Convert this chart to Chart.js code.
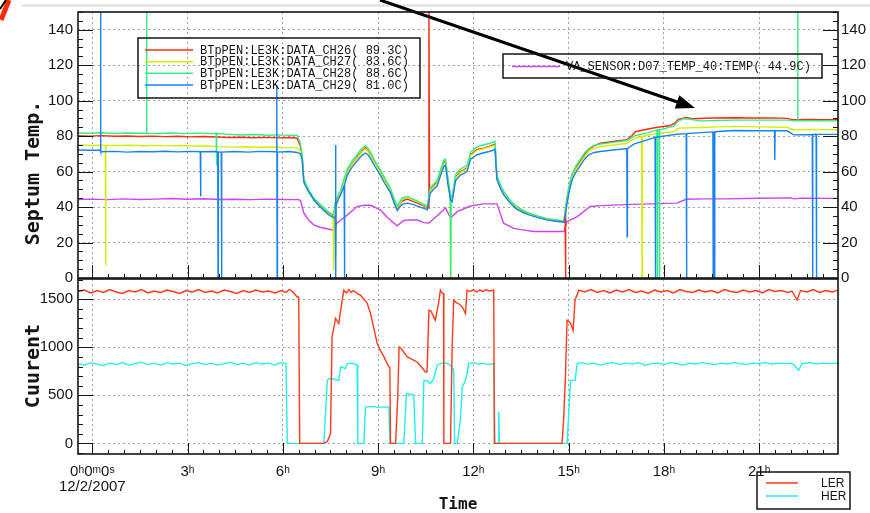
<!DOCTYPE html>
<html>
<head>
<meta charset="utf-8">
<script src="https://cdn.jsdelivr.net/npm/chart.js@4.4.1/dist/chart.umd.min.js"></script>
<style>
  html, body { margin: 0; padding: 0; background: #fff; }
  #wrap { position: relative; width: 870px; height: 513px; overflow: hidden; }
  canvas { position: absolute; left: 0; }
  #temp { top: 0; }
  #cur { top: 278px; }
</style>
</head>
<body>
<div id="wrap">
  <canvas id="temp" width="870" height="292"></canvas>
  <canvas id="cur" width="870" height="235"></canvas>
</div>
<script>
// hours since 0h 12/2/2007
const timeTicks = [0, 3, 6, 9, 12, 15, 18, 21];
const timeLabels = [["0ʰ0ᵐ0ˢ", "12/2/2007"], "3ʰ", "6ʰ", "9ʰ", "12ʰ", "15ʰ", "18ʰ", "21ʰ"];
const tempTicks = [0, 20, 40, 60, 80, 100, 120, 140];
const currentTicks = [0, 500, 1000, 1500];

const tempLabels = [
  "BTpPEN:LE3K:DATA_CH26( 89.3C)",
  "BTpPEN:LE3K:DATA_CH27( 83.6C)",
  "BTpPEN:LE3K:DATA_CH28( 88.6C)",
  "BTpPEN:LE3K:DATA_CH29( 81.0C)",
  "VA_SENSOR:D07_TEMP_40:TEMP( 44.9C)",
];
const beamLabels = ["LER", "HER"];

// septum temperatures [hour, degC]
const ch26 = [[-0.45,80.2],[-0.1,80.0],[0.3,80.3],[0.7,79.9],[1.1,80.1],[1.5,79.8],[1.9,80.0],[2.3,79.7],[2.7,79.9],[3.1,79.6],[3.5,79.8],[3.9,79.5],[4.3,79.2],[4.7,79.4],[5.1,79.1],[5.5,79.3],[5.9,79.0],[6.2,79.2],[6.45,78.8],[6.55,74.5],[6.61,68],[6.66,55],[6.8,49.5],[6.98,44.5],[7.15,41.5],[7.3,39],[7.45,36.5],[7.6,35],[7.66,42.5],[7.75,46],[7.82,48.5],[7.92,54],[8.03,60],[8.18,64.5],[8.34,68],[8.48,71.5],[8.6,73.5],[8.68,72],[8.76,69.5],[8.9,65],[9.07,60],[9.22,55],[9.39,49.5],[9.5,44],[9.6,39.5],[9.68,41.5],[9.76,43.5],[9.92,44.5],[10.1,43.2],[10.23,42.3],[10.4,41],[10.58,39.5],[10.6,150],[10.62,48],[10.65,49.8],[10.75,52],[10.86,54],[10.97,60],[11.07,65.5],[11.12,66],[11.2,55],[11.28,46],[11.33,45],[11.38,50],[11.44,57],[11.59,60],[11.7,61],[11.8,62],[11.91,69.5],[12.12,72.5],[12.3,73],[12.53,74.5],[12.68,75.5],[12.74,57],[12.85,52],[12.95,48.5],[13.17,43],[13.35,40],[13.58,37.5],[13.8,36],[14.01,34.8],[14.3,33.3],[14.6,32.5],[14.85,31.8],[14.89,31.8],[14.9,0],[14.91,40],[15.0,50],[15.1,57.5],[15.22,62],[15.37,66],[15.5,69.5],[15.63,72.5],[15.8,74.5],[16.0,76],[16.4,77],[16.84,78],[17.0,80.5],[17.1,82.5],[17.5,84],[17.8,85],[18.2,86],[18.35,87.5],[18.45,89.5],[18.7,90.5],[18.9,89.8],[19.5,90.2],[20.2,90.4],[20.8,90.2],[21.4,90.3],[21.88,90],[22.08,89.2],[22.6,89.4],[23.0,89.2],[23.48,89.3]];
const ch27 = [[-0.45,75],[-0.1,74.8],[0.3,74.9],[0.41,74.8],[0.42,7],[0.43,74.8],[0.8,74.7],[1.2,74.9],[1.6,74.6],[2.0,74.8],[2.4,74.5],[2.8,74.7],[3.2,74.4],[3.6,74.6],[4.0,74.1],[4.4,73.8],[4.8,74.0],[5.2,73.7],[5.6,73.9],[6.0,73.6],[6.45,73.5],[6.55,71.5],[6.61,66.5],[6.66,54.5],[6.8,49],[6.98,44],[7.15,41],[7.3,38.5],[7.45,36],[7.58,34.5],[7.6,4.3],[7.62,35],[7.66,42],[7.75,45.5],[7.82,48],[7.92,53.5],[8.03,59.5],[8.18,64],[8.34,67.5],[8.48,71],[8.6,72.8],[8.68,71.5],[8.76,69],[8.9,64.5],[9.07,59.5],[9.22,54.5],[9.39,49],[9.5,43.5],[9.6,39.8],[9.68,42],[9.76,44.5],[9.92,45.3],[10.1,44],[10.23,43],[10.4,41.5],[10.55,40],[10.62,47.5],[10.65,49.5],[10.75,51.5],[10.86,53.5],[10.97,59.5],[11.07,64.5],[11.12,65],[11.2,54.5],[11.27,45.5],[11.28,0],[11.29,45],[11.33,44.8],[11.38,50],[11.44,56.5],[11.59,59.5],[11.7,60.5],[11.8,61.5],[11.91,69],[12.12,72],[12.3,72.8],[12.53,74],[12.68,74.8],[12.74,56.5],[12.85,51.5],[12.95,48],[13.17,42.8],[13.35,39.8],[13.58,37.3],[13.8,35.8],[14.01,34.6],[14.3,33.2],[14.6,32.4],[14.85,31.8],[14.91,39],[15.0,49],[15.1,56.5],[15.22,61],[15.37,65],[15.5,68.5],[15.63,71.5],[15.8,73],[16.0,74],[16.4,75],[16.84,76],[17.05,78.5],[17.3,79.8],[17.31,0],[17.32,79.8],[17.5,80.5],[17.78,81.5],[18.3,82.5],[18.45,84.5],[19.15,84.9],[19.7,85.2],[20.2,85.5],[21.0,85.2],[21.88,85],[22.08,83.6],[22.8,83.7],[23.48,83.6]];
const ch28 = [[-0.45,81.8],[-0.1,81.6],[0.3,81.9],[0.7,81.5],[1.1,81.8],[1.5,81.6],[1.7,81.7],[1.71,150],[1.72,81.7],[2.1,81.5],[2.5,81.8],[2.9,81.4],[3.3,81.7],[3.7,81.5],[3.9,81.5],[3.91,63.5],[3.92,81.5],[4.3,81],[4.7,80.6],[5.1,80.9],[5.5,80.5],[5.9,80.7],[6.2,80.4],[6.45,80.5],[6.55,76],[6.61,69],[6.66,56],[6.8,50],[6.98,45],[7.15,42],[7.3,39.5],[7.45,37],[7.6,35.5],[7.66,43.5],[7.75,47],[7.82,49.5],[7.92,55.5],[8.03,61.5],[8.18,66],[8.34,69.5],[8.48,73],[8.6,74.5],[8.68,73.2],[8.76,71],[8.9,66],[9.07,61],[9.22,56],[9.39,50.5],[9.5,45],[9.6,40.5],[9.68,43],[9.76,45],[9.92,46],[10.1,44.5],[10.23,43.5],[10.4,42],[10.55,40.5],[10.62,49],[10.65,51],[10.75,53],[10.86,55],[10.97,61.5],[11.07,66.5],[11.12,67],[11.2,56],[11.27,47],[11.285,0],[11.3,46.5],[11.33,46],[11.38,51.5],[11.44,58.5],[11.59,61.5],[11.7,62.5],[11.8,63.5],[11.91,71],[12.12,74],[12.3,75],[12.53,76],[12.68,77],[12.74,58],[12.85,52.5],[12.95,49],[13.17,43.5],[13.35,40.5],[13.58,38],[13.8,36.3],[14.01,35],[14.3,33.6],[14.6,32.8],[14.85,32.2],[14.91,41],[15.0,51],[15.1,58.5],[15.22,63],[15.37,67],[15.5,70.5],[15.63,73],[15.8,74.8],[16.0,75.5],[16.4,76.5],[16.84,77.5],[17.05,80],[17.5,82],[17.78,83.5],[17.79,0],[17.8,83.5],[17.85,83.6],[17.86,0],[17.87,83.6],[18.3,85.5],[18.41,88],[18.6,89.8],[18.83,89.5],[19.15,88.6],[19.7,88.8],[20.2,89],[21.0,89],[21.88,89],[22.08,88.6],[22.2,88.6],[22.21,150],[22.22,88.6],[22.7,88.7],[23.48,88.6]];
const ch29 = [[-0.45,72.2],[-0.1,72],[0.25,72.2],[0.26,150],[0.27,71.2],[0.7,71.4],[1.1,71],[1.5,71.3],[1.9,71.2],[2.3,71.5],[2.7,71.1],[3.1,71.4],[3.4,71.2],[3.41,46],[3.42,71.2],[3.8,71.3],[3.95,71.2],[3.96,0],[3.97,71],[4.06,71],[4.07,0],[4.08,71],[4.5,71.3],[4.9,71],[5.3,71.4],[5.8,71.2],[5.81,108.5],[5.82,0],[5.83,71],[6.2,71.3],[6.45,70.8],[6.55,70],[6.61,66.5],[6.66,54],[6.8,49],[6.98,44],[7.15,40.5],[7.3,38],[7.45,35.5],[7.6,34],[7.65,34.5],[7.66,75],[7.67,0],[7.68,41],[7.75,44.5],[7.82,47],[7.93,52],[7.94,0],[7.95,52.5],[8.03,58],[8.18,62.5],[8.34,66],[8.48,69],[8.6,70.5],[8.68,69.5],[8.76,67.5],[8.9,63],[9.07,58],[9.22,53],[9.39,48],[9.5,42.5],[9.6,38],[9.68,40],[9.76,41.5],[9.92,42.2],[10.1,41.5],[10.23,40.5],[10.4,39.5],[10.55,38.5],[10.62,46],[10.65,48],[10.75,50],[10.86,52],[10.97,58],[11.07,63],[11.12,63.5],[11.2,52.5],[11.28,44],[11.33,43],[11.38,48.5],[11.44,55],[11.59,58],[11.7,59],[11.8,60],[11.91,67],[12.12,69.5],[12.3,70.5],[12.53,71.5],[12.68,72.5],[12.74,55.5],[12.85,50.5],[12.95,47],[13.17,42],[13.35,39],[13.58,36.8],[13.8,35.3],[14.01,34.2],[14.3,32.8],[14.6,32],[14.85,31.5],[14.91,37.5],[15.0,47.5],[15.1,55],[15.22,59.5],[15.37,63.5],[15.5,67],[15.63,69.5],[15.8,70.8],[16.0,71.3],[16.4,72.2],[16.83,73],[16.84,23.3],[16.85,73],[17.05,75.5],[17.5,78],[17.72,79.3],[17.73,0],[17.74,79.4],[18.1,80.3],[18.41,81.1],[18.7,81.4],[18.71,0],[18.72,81.4],[19.15,82],[19.54,82.4],[19.55,0],[19.565,82.4],[19.58,0],[19.6,82.5],[20.2,83.2],[20.8,83],[21.48,83.1],[21.49,66.6],[21.5,83.1],[21.88,83],[22.08,80.7],[22.67,80.9],[22.68,0],[22.69,80.9],[22.79,81],[22.8,0],[22.81,81],[23.48,81]];
const vaSensor = [[-0.45,44.3],[0,44.5],[0.5,44.2],[1.0,44.6],[1.5,44.3],[2.0,44.5],[2.5,44.8],[3.0,44.4],[3.5,44.7],[4.0,44.3],[4.5,44.4],[5.0,44.2],[5.5,44.5],[6.0,44.3],[6.5,44.2],[6.56,43.5],[6.66,36.7],[6.8,33],[6.97,30],[7.2,28.5],[7.6,27],[7.71,31],[7.85,33],[8.03,35.6],[8.34,40.3],[8.55,41],[8.76,41],[9.07,38.4],[9.3,34],[9.6,29.4],[9.81,32.4],[10.0,32.8],[10.23,32.7],[10.44,31.2],[10.6,31],[10.85,35],[11.12,39.5],[11.28,33.8],[11.49,37.4],[11.91,40.6],[12.32,41.8],[12.74,41.8],[12.95,30.9],[13.27,28],[13.6,27],[13.9,26.2],[14.4,26.2],[14.85,26.2],[14.95,31.8],[15.27,34.6],[15.68,40.3],[16.0,40.8],[17.0,41.5],[18.41,42.2],[18.7,44.4],[19.3,44.6],[20.0,44.6],[21.0,45],[22.0,45.2],[22.1,44.6],[22.3,45],[23.48,44.9]];

// beam currents [hour, mA]
const ler = [[-0.45,1580],[-0.25,1595],[-0.05,1565],[0.15,1590],[0.35,1570],[0.55,1600],[0.75,1575],[0.95,1560],[1.15,1590],[1.35,1575],[1.55,1600],[1.75,1565],[1.95,1585],[2.15,1570],[2.35,1595],[2.55,1580],[2.75,1560],[2.95,1590],[3.15,1575],[3.35,1600],[3.55,1570],[3.75,1585],[3.95,1565],[4.15,1595],[4.35,1580],[4.55,1560],[4.75,1590],[4.95,1570],[5.15,1595],[5.35,1575],[5.55,1585],[5.75,1565],[5.95,1590],[6.1,1570],[6.2,1600],[6.3,1580],[6.45,1525],[6.5,1520],[6.53,0],[7.3,0],[7.4,20],[7.5,100],[7.55,1108],[7.66,1300],[7.76,1247],[7.87,1490],[7.92,1594],[8.0,1565],[8.08,1600],[8.15,1570],[8.22,1590],[8.34,1560],[8.45,1540],[8.55,1500],[8.65,1462],[8.76,1354],[8.85,1220],[8.97,1042],[9.08,960],[9.18,903],[9.33,799],[9.37,790],[9.39,0],[9.55,0],[9.62,500],[9.66,1003],[9.72,990],[9.92,899],[10.1,870],[10.23,847],[10.35,800],[10.49,743],[10.54,745],[10.6,1386],[10.66,1380],[10.8,1282],[10.9,1450],[10.96,1594],[11.02,1560],[11.06,1560],[11.07,0],[11.28,0],[11.33,1000],[11.38,1490],[11.44,1470],[11.55,1450],[11.65,1420],[11.75,1351],[11.8,1594],[11.9,1580],[12.0,1600],[12.1,1575],[12.2,1595],[12.3,1580],[12.4,1600],[12.5,1585],[12.64,1594],[12.66,0],[14.79,0],[14.84,240],[14.9,726],[14.95,1282],[15.06,1250],[15.14,1177],[15.2,1490],[15.32,1594],[15.5,1575],[15.7,1600],[15.9,1570],[16.1,1590],[16.3,1565],[16.5,1595],[16.7,1575],[16.9,1600],[17.1,1570],[17.3,1585],[17.5,1560],[17.7,1595],[17.9,1575],[18.1,1590],[18.3,1565],[18.5,1600],[18.7,1580],[18.9,1570],[19.1,1595],[19.3,1575],[19.5,1590],[19.7,1565],[19.9,1600],[20.1,1580],[20.3,1570],[20.5,1595],[20.7,1575],[20.9,1590],[21.1,1565],[21.3,1600],[21.5,1580],[21.7,1590],[21.9,1570],[22.03,1585],[22.19,1490],[22.3,1590],[22.5,1575],[22.7,1600],[22.9,1570],[23.1,1590],[23.3,1575],[23.48,1595]];
const her = [[-0.45,830],[-0.25,815],[-0.05,840],[0.15,825],[0.35,810],[0.55,835],[0.75,820],[0.95,840],[1.15,815],[1.35,830],[1.55,845],[1.75,820],[1.95,835],[2.15,815],[2.35,840],[2.55,825],[2.75,835],[2.95,810],[3.15,830],[3.35,840],[3.55,820],[3.75,835],[3.95,815],[4.15,830],[4.35,845],[4.55,820],[4.75,835],[4.95,815],[5.15,840],[5.35,825],[5.55,835],[5.75,815],[5.95,840],[6.1,830],[6.14,0],[7.29,0],[7.4,656],[7.45,674],[7.6,670],[7.76,656],[7.82,795],[7.97,780],[8.03,830],[8.2,835],[8.34,815],[8.36,0],[8.55,0],[8.6,378],[8.8,385],[9.0,375],[9.2,380],[9.34,378],[9.37,0],[9.81,0],[9.89,518],[10.0,515],[10.12,500],[10.18,0],[10.39,0],[10.44,656],[10.55,650],[10.65,622],[10.75,674],[10.86,813],[10.96,830],[11.1,840],[11.25,820],[11.38,771],[11.41,0],[11.49,0],[11.59,240],[11.65,587],[11.75,656],[11.8,726],[11.85,830],[12.0,840],[12.15,825],[12.3,835],[12.45,820],[12.64,830],[12.68,0],[12.78,0],[12.8,326],[12.82,0],[14.95,0],[15.06,656],[15.2,656],[15.27,830],[15.4,840],[15.6,825],[15.8,835],[16.0,815],[16.2,830],[16.4,840],[16.6,820],[16.8,835],[17.0,825],[17.2,840],[17.4,815],[17.6,830],[17.8,835],[18.0,820],[18.2,840],[18.4,830],[18.6,815],[18.8,835],[19.0,825],[19.2,840],[19.4,830],[19.6,820],[19.8,835],[20.0,825],[20.2,840],[20.4,830],[20.6,820],[20.8,835],[21.0,830],[21.2,840],[21.4,825],[21.6,835],[21.8,830],[22.0,835],[22.08,820],[22.24,761],[22.35,830],[22.6,840],[22.8,825],[23.0,835],[23.2,830],[23.48,835]];

const tMin = -0.45, tMax = 23.48;
const ink = "#151515";
const tickFont = { family: "'Liberation Sans', Arial, sans-serif", size: 15, lineHeight: 1 };
const dotted = { display: false, dash: [2, 3] };
const grid = { color: "#a0a0a0", lineWidth: 1, drawTicks: false };

const setTicks = (values) => (s) => { s.ticks = values.map(v => ({ value: v })); };
// pin each axis box and drop the label overhang padding so plot edges land where wanted
const fixSize = (w, h) => (s) => {
  if (w != null) s.width = w;
  if (h != null) s.height = h;
  s.paddingTop = s.paddingBottom = s.paddingLeft = s.paddingRight = 0;
};

function series(label, data, color, order) {
  return { label, data, borderColor: color, backgroundColor: color, borderWidth: 1.4,
           pointRadius: 0, tension: 0, fill: false, order };
}

// inward tick marks, frame, legend boxes, axis titles
const decor = {
  id: "decor",
  afterDraw(chart, args, o) {
    const { ctx, chartArea: a, scales } = chart;
    const sets = chart.data.datasets;
    ctx.save();
    ctx.strokeStyle = ink;
    ctx.lineWidth = 1;
    ctx.beginPath();
    const xs = scales.x;
    for (let v = Math.ceil(xs.min * 2) / 2; v <= xs.max; v += 0.5) {
      const px = Math.round(xs.getPixelForValue(v)) + 0.5;
      const len = v % 3 === 0 ? o.xMajor : 4;
      ctx.moveTo(px, a.bottom);
      ctx.lineTo(px, a.bottom - len);
    }
    for (const id of o.yAxes) {
      const s = scales[id];
      const left = s.position === "left";
      const edge = left ? a.left : a.right;
      for (let v = Math.ceil(s.min / o.yMinor) * o.yMinor; v <= s.max; v += o.yMinor) {
        const py = Math.round(s.getPixelForValue(v)) + 0.5;
        const len = v % o.yMajor === 0 ? 15 : 5;
        ctx.moveTo(edge, py);
        ctx.lineTo(left ? edge + len : edge - len, py);
      }
    }
    ctx.stroke();
    ctx.lineWidth = 1.6;
    ctx.strokeRect(a.left, a.top, a.right - a.left, a.bottom - a.top);

    for (const b of o.boxes) {
      ctx.strokeStyle = ink;
      ctx.lineWidth = 1.5;
      ctx.strokeRect(b.x, b.y, b.w, b.h);
      b.items.forEach((di, k) => {
        const ds = sets[di];
        const y = b.row0 + k * b.step;
        ctx.strokeStyle = ds.borderColor;
        ctx.lineWidth = 1.5;
        ctx.beginPath();
        ctx.moveTo(b.line[0], y);
        ctx.lineTo(b.line[1], y);
        ctx.stroke();
        ctx.fillStyle = ink;
        ctx.font = b.font;
        ctx.textAlign = "left";
        ctx.textBaseline = "middle";
        ctx.fillText(ds.label, b.textX, y + 0.5);
      });
    }

    ctx.translate(o.title.x, o.title.y);
    ctx.rotate(-Math.PI / 2);
    ctx.font = "bold 20px 'DejaVu Sans Mono', monospace";
    ctx.fillStyle = ink;
    ctx.textAlign = "center";
    ctx.textBaseline = "middle";
    ctx.fillText(o.title.text, 0, 0);
    ctx.restore();
  }
};

// slide bits above the plot: rule line and the pointer arrow
const slide = {
  id: "slide",
  beforeDraw(chart) {
    const { ctx } = chart;
    ctx.save();
    ctx.strokeStyle = "#dcdcdc";
    ctx.lineWidth = 2;
    ctx.beginPath();
    ctx.moveTo(22, 5.5);
    ctx.lineTo(870, 5.5);
    ctx.stroke();
    ctx.strokeStyle = "#ff2a00";
    ctx.lineWidth = 5;
    ctx.beginPath();
    ctx.moveTo(9, 0);
    ctx.lineTo(1, 20);
    ctx.stroke();
    ctx.restore();
  },
  afterDraw(chart) {
    const { ctx } = chart;
    const x0 = 380, y0 = 0, x1 = 695, y1 = 108;
    const ang = Math.atan2(y1 - y0, x1 - x0);
    const c = Math.cos(ang), s = Math.sin(ang);
    ctx.save();
    ctx.strokeStyle = "#000";
    ctx.fillStyle = "#000";
    ctx.lineWidth = 3;
    ctx.beginPath();
    ctx.moveTo(x0, y0);
    ctx.lineTo(x1 - 14 * c, y1 - 14 * s);
    ctx.stroke();
    ctx.beginPath();
    ctx.moveTo(x1, y1);
    ctx.lineTo(x1 - 19 * c + 7 * s, y1 - 19 * s - 7 * c);
    ctx.lineTo(x1 - 19 * c - 7 * s, y1 - 19 * s + 7 * c);
    ctx.closePath();
    ctx.fill();
    ctx.lineWidth = 2;
    ctx.beginPath();
    ctx.moveTo(6, 0);
    ctx.lineTo(0, 9);
    ctx.stroke();
    ctx.restore();
  }
};

const monoFont = "12px 'Liberation Mono', 'DejaVu Sans Mono', monospace";

new Chart(document.getElementById("temp"), {
  type: "line",
  data: {
    datasets: [
      series(tempLabels[0], ch26, "#ff2a10", 3),
      series(tempLabels[1], ch27, "#d4f000", 2),
      series(tempLabels[2], ch28, "#33ee88", 1),
      series(tempLabels[3], ch29, "#1a82f0", 0),
      series(tempLabels[4], vaSensor, "#cc44ee", 4),
    ],
  },
  options: {
    responsive: false,
    animation: false,
    devicePixelRatio: 1,
    layout: { padding: { top: 12, left: 0, right: 0, bottom: 0 } },
    plugins: {
      legend: { display: false },
      tooltip: { enabled: false },
      decor: {
        xMajor: 13, yAxes: ["y", "y2"], yMajor: 20, yMinor: 5,
        title: { text: "Septum Temp.", x: 34, y: 173 },
        boxes: [
          { x: 138, y: 38, w: 282, h: 60, items: [0, 1, 2, 3], row0: 50, step: 11.67,
            line: [145, 193], textX: 200, font: monoFont },
          { x: 503, y: 54, w: 319, h: 24, items: [4], row0: 66.5, step: 0,
            line: [512, 560], textX: 566, font: monoFont },
        ],
      },
    },
    scales: {
      x: {
        type: "linear", min: tMin, max: tMax,
        afterBuildTicks: setTicks(timeTicks),
        afterFit: fixSize(null, 14),
        ticks: { display: false },
        grid, border: dotted,
      },
      y: {
        position: "left", min: 0, max: 150,
        afterBuildTicks: setTicks(tempTicks),
        afterFit: fixSize(78),
        ticks: { font: tickFont, color: ink, padding: 5, callback: v => String(v) },
        grid, border: dotted,
      },
      y2: {
        position: "right", min: 0, max: 150,
        afterBuildTicks: setTicks(tempTicks),
        afterFit: fixSize(32),
        ticks: { font: tickFont, color: ink, padding: 3, callback: v => String(v) },
        grid: { drawOnChartArea: false, drawTicks: false },
        border: { display: false },
      },
    },
  },
  plugins: [slide, decor],
});

new Chart(document.getElementById("cur"), {
  type: "line",
  data: {
    datasets: [
      series(beamLabels[0], ler, "#ff3a1a", 0),
      series(beamLabels[1], her, "#22eeee", 1),
    ],
  },
  options: {
    responsive: false,
    animation: false,
    devicePixelRatio: 1,
    layout: { padding: { top: 1, left: 0, right: 32, bottom: 0 } },
    plugins: {
      legend: { display: false },
      tooltip: { enabled: false },
      decor: {
        xMajor: 11, yAxes: ["y"], yMajor: 500, yMinor: 100,
        title: { text: "Cuurent", x: 34, y: 88 },
        boxes: [
          { x: 757, y: 194, w: 93, h: 37, items: [0, 1], row0: 205, step: 13,
            line: [766, 798], textX: 821, font: "12px 'Liberation Sans', Arial, sans-serif" },
        ],
      },
    },
    scales: {
      x: {
        type: "linear", min: tMin, max: tMax,
        afterBuildTicks: setTicks(timeTicks),
        afterFit: fixSize(null, 59),
        ticks: { font: tickFont, color: ink, padding: 10.5, autoSkip: false, maxRotation: 0, minRotation: 0,
                 callback: (v, i) => timeLabels[i] },
        title: { display: true, text: "Time", color: ink, padding: { top: 0, bottom: 0 },
                 font: { family: "'DejaVu Sans Mono', monospace", size: 16, weight: "bold", lineHeight: 1 } },
        grid, border: dotted,
      },
      y: {
        position: "left", min: -110, max: 1710,
        afterBuildTicks: setTicks(currentTicks),
        afterFit: fixSize(78),
        ticks: { font: tickFont, color: ink, padding: 5, callback: v => String(v) },
        grid, border: dotted,
      },
    },
  },
  plugins: [decor],
});
</script>
</body>
</html>
